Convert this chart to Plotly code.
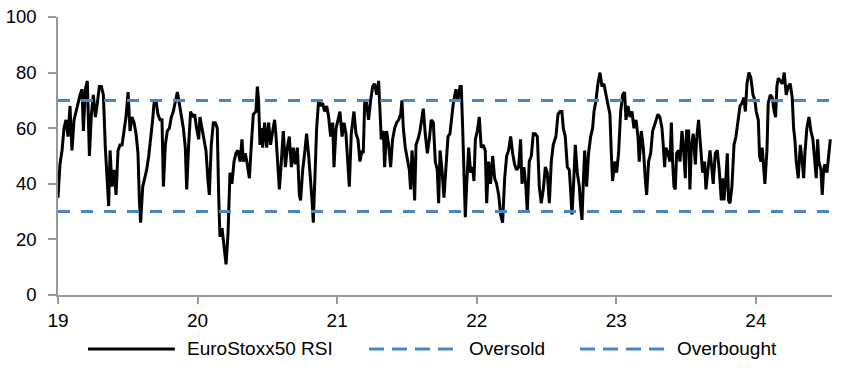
import plotly.graph_objects as go

# --- data: EuroStoxx50 RSI, time in decimal years (19 = 2019) ---
t_19a = [19.000, 19.014, 19.029, 19.043, 19.057, 19.072, 19.086, 19.100, 19.115, 19.129, 19.143, 19.158, 19.172, 19.182, 19.196, 19.210, 19.225, 19.239, 19.253, 19.268, 19.282, 19.296, 19.311, 19.325, 19.339, 19.353, 19.363, 19.373, 19.387, 19.401, 19.416, 19.430, 19.444, 19.459, 19.473, 19.487, 19.502, 19.516, 19.530, 19.545, 19.559, 19.573, 19.583, 19.592, 19.607, 19.621, 19.635, 19.650, 19.664, 19.678]
rsi_19a = [35, 47, 52, 60, 63, 57, 68, 52, 63, 66, 69, 72, 74, 59, 74, 77, 50, 65, 72, 64, 69, 75, 75, 72, 53, 39, 32, 52, 39, 45, 36, 52, 54, 54, 60, 64, 73, 59, 64, 62, 58, 51, 34, 26, 39, 42, 45, 50, 56, 63]

t_19b = [19.688, 19.702, 19.716, 19.731, 19.745, 19.755, 19.769, 19.783, 19.798, 19.812, 19.826, 19.840, 19.855, 19.869, 19.883, 19.898, 19.912, 19.922, 19.936, 19.950, 19.965, 19.979, 19.993, 20.008, 20.017, 20.032, 20.046, 20.060, 20.075, 20.084, 20.098, 20.113, 20.127, 20.141, 20.151, 20.160, 20.175, 20.189, 20.204, 20.218, 20.232, 20.246, 20.261, 20.275, 20.289, 20.304, 20.318, 20.328, 20.342, 20.356, 20.371, 20.385, 20.399]
rsi_19b = [69, 70, 65, 63, 63, 39, 54, 59, 60, 64, 66, 69, 73, 69, 65, 60, 53, 38, 54, 66, 64, 65, 60, 56, 64, 60, 56, 52, 41, 36, 54, 62, 62, 60, 36, 21, 24, 17, 11, 22, 44, 40, 48, 51, 52, 48, 56, 48, 51, 47, 42, 54, 65]

t_20 = [20.418, 20.428, 20.437, 20.447, 20.457, 20.466, 20.480, 20.495, 20.509, 20.523, 20.538, 20.552, 20.562, 20.571, 20.586, 20.600, 20.614, 20.629, 20.643, 20.657, 20.672, 20.686, 20.700, 20.715, 20.729, 20.738, 20.753, 20.767, 20.781, 20.796, 20.810, 20.820, 20.829, 20.843, 20.853, 20.867, 20.882, 20.896, 20.910, 20.925, 20.939, 20.953, 20.968, 20.977, 20.992, 21.006, 21.020, 21.035, 21.049, 21.063, 21.078, 21.087, 21.101]
rsi_20 = [66, 75, 70, 54, 60, 53, 62, 53, 62, 54, 59, 63, 57, 50, 38, 48, 59, 46, 53, 57, 46, 53, 47, 53, 36, 34, 45, 51, 58, 50, 42, 34, 26, 45, 60, 70, 68, 69, 66, 68, 64, 57, 62, 46, 60, 63, 66, 57, 62, 58, 45, 39, 58]

t_21 = [21.120, 21.135, 21.149, 21.163, 21.178, 21.187, 21.197, 21.211, 21.225, 21.240, 21.254, 21.268, 21.283, 21.297, 21.307, 21.316, 21.331, 21.340, 21.354, 21.369, 21.383, 21.397, 21.412, 21.426, 21.440, 21.455, 21.464, 21.474, 21.488, 21.503, 21.517, 21.526, 21.536, 21.545, 21.555, 21.565, 21.579, 21.593, 21.608, 21.617, 21.631, 21.646, 21.660, 21.674, 21.689, 21.703, 21.717, 21.727, 21.737, 21.751, 21.765, 21.779, 21.794, 21.808, 21.822, 21.832]
rsi_21 = [66, 58, 56, 48, 52, 51, 69, 69, 63, 70, 75, 76, 72, 77, 66, 56, 59, 46, 59, 54, 46, 56, 60, 62, 63, 65, 70, 60, 53, 48, 45, 38, 52, 46, 34, 54, 56, 59, 64, 67, 58, 51, 56, 63, 62, 48, 45, 33, 52, 45, 35, 45, 57, 58, 64, 69]

t_22a = [21.851, 21.865, 21.880, 21.889, 21.899, 21.908, 21.918, 21.927, 21.942, 21.956, 21.970, 21.980, 21.990, 22.004, 22.018, 22.032, 22.047, 22.061, 22.071, 22.085, 22.099, 22.114, 22.128, 22.142, 22.157, 22.171, 22.185, 22.200, 22.214, 22.228, 22.243, 22.257, 22.271, 22.286, 22.300, 22.314, 22.324, 22.338, 22.352, 22.362, 22.376, 22.391, 22.405, 22.419, 22.434, 22.448, 22.462, 22.477, 22.491, 22.505, 22.520, 22.534, 22.548]
rsi_22a = [74, 70, 75, 75, 60, 46, 28, 39, 53, 44, 46, 41, 56, 59, 64, 53, 54, 52, 33, 48, 40, 50, 42, 40, 36, 29, 26, 42, 50, 52, 57, 51, 47, 45, 46, 56, 40, 46, 39, 30, 48, 50, 58, 58, 57, 39, 33, 38, 46, 44, 33, 48, 54]

t_22b = [22.567, 22.582, 22.596, 22.610, 22.620, 22.634, 22.649, 22.663, 22.672, 22.682, 22.692, 22.706, 22.720, 22.735, 22.744, 22.754, 22.763, 22.773, 22.787, 22.801, 22.816, 22.830, 22.840, 22.854, 22.868, 22.883, 22.897, 22.911, 22.926, 22.940, 22.954, 22.964, 22.973, 22.988, 23.002, 23.016, 23.031, 23.045, 23.059, 23.069, 23.083, 23.098, 23.112, 23.126, 23.141, 23.155, 23.164, 23.179, 23.193, 23.207, 23.217, 23.231, 23.246, 23.260]
rsi_22b = [57, 65, 66, 66, 60, 57, 46, 45, 38, 29, 38, 54, 44, 39, 32, 27, 40, 52, 39, 51, 57, 60, 66, 70, 76, 80, 75, 76, 72, 69, 65, 51, 41, 48, 44, 51, 66, 72, 73, 63, 68, 64, 66, 60, 63, 57, 48, 59, 53, 42, 36, 48, 51, 59]

t_23 = [23.284, 23.298, 23.312, 23.327, 23.336, 23.346, 23.355, 23.370, 23.384, 23.394, 23.403, 23.413, 23.422, 23.432, 23.446, 23.456, 23.470, 23.480, 23.494, 23.503, 23.518, 23.527, 23.537, 23.551, 23.566, 23.575, 23.589, 23.604, 23.618, 23.632, 23.642, 23.656, 23.671, 23.685, 23.694, 23.709, 23.723, 23.737, 23.752, 23.761, 23.771, 23.785, 23.795, 23.804, 23.814, 23.828, 23.843, 23.857, 23.871, 23.886, 23.900, 23.914, 23.924]
rsi_23 = [63, 65, 64, 60, 54, 46, 53, 51, 48, 62, 48, 39, 38, 51, 52, 48, 59, 54, 42, 59, 59, 38, 53, 58, 47, 56, 63, 52, 44, 48, 38, 45, 52, 45, 40, 51, 52, 45, 34, 42, 34, 42, 51, 34, 33, 39, 54, 57, 62, 68, 69, 71, 66]

t_24 = [23.936, 23.950, 23.964, 23.979, 23.993, 24.002, 24.017, 24.026, 24.036, 24.045, 24.055, 24.064, 24.079, 24.088, 24.103, 24.117, 24.131, 24.141, 24.150, 24.160, 24.174, 24.189, 24.203, 24.217, 24.232, 24.246, 24.260, 24.270, 24.279, 24.289, 24.303, 24.318, 24.332, 24.342, 24.351, 24.365, 24.380, 24.394, 24.408, 24.423, 24.432, 24.442, 24.451, 24.466, 24.475, 24.485, 24.494, 24.509, 24.523, 24.533]
rsi_24 = [76, 80, 78, 72, 70, 66, 63, 50, 48, 53, 47, 40, 52, 69, 72, 71, 66, 64, 75, 78, 77, 76, 80, 72, 75, 76, 71, 60, 56, 48, 42, 54, 48, 42, 51, 60, 64, 59, 56, 48, 42, 56, 48, 45, 36, 45, 47, 44, 52, 56]

oversold_level = 30
overbought_level = 70
x_tick_vals = [19, 20, 21, 22, 23, 24]
x_tick_text = ["19", "20", "21", "22", "23", "24"]
y_tick_vals = [0, 20, 40, 60, 80, 100]

t = t_19a + t_19b + t_20 + t_21 + t_22a + t_22b + t_23 + t_24
rsi = rsi_19a + rsi_19b + rsi_20 + rsi_21 + rsi_22a + rsi_22b + rsi_23 + rsi_24

BLUE = "#4a86c1"
FONT = "Liberation Sans, Arial, sans-serif"

fig = go.Figure()
fig.add_trace(go.Scatter(x=t, y=rsi, mode="lines", name="EuroStoxx50 RSI",
                         line=dict(color="black", width=3), showlegend=False))
fig.add_trace(go.Scatter(x=[t[0], t[-1]], y=[oversold_level] * 2, mode="lines", name="Oversold",
                         line=dict(color=BLUE, width=3, dash="12px,11px"), showlegend=False))
fig.add_trace(go.Scatter(x=[t[0], t[-1]], y=[overbought_level] * 2, mode="lines", name="Overbought",
                         line=dict(color=BLUE, width=3, dash="12px,11px"), showlegend=False))

# custom legend (long samples as in the reference)
leg_y = -0.194
legend_items = [
    ("EuroStoxx50 RSI", "black", "solid", 0.0388, 0.151, 0.164),
    ("Oversold", BLUE, "15px,8px", 0.4018, 0.5103, 0.528),
    ("Overbought", BLUE, "15px,8px", 0.6744, 0.783, 0.797),
]
for label, col, dash, x0, x1, xt in legend_items:
    fig.add_shape(type="line", xref="paper", yref="paper", x0=x0, x1=x1, y0=leg_y, y1=leg_y,
                  line=dict(color=col, width=3, dash=dash))
    fig.add_annotation(xref="paper", yref="paper", x=xt, y=leg_y, text=label, showarrow=False,
                       xanchor="left", yanchor="middle", font=dict(family=FONT, size=19, color="black"))

fig.update_layout(
    width=852, height=370,
    margin=dict(l=58, r=20, t=17, b=75, autoexpand=False),
    paper_bgcolor="white", plot_bgcolor="white",
    font=dict(family=FONT, size=19, color="black"),
    showlegend=False,
)
fig.update_xaxes(range=[19, 24.545], tickvals=x_tick_vals, ticktext=x_tick_text, automargin=False,
                 showgrid=False, zeroline=False, showline=True, linecolor="#999999", linewidth=1.5,
                 ticks="outside", ticklen=7, tickcolor="#999999", tickwidth=1.5)
fig.update_yaxes(range=[0, 100], tickvals=y_tick_vals, automargin=False,
                 tickfont=dict(size=18.5), ticklabelstandoff=8, ticklabeloverflow="allow",
                 showgrid=False, zeroline=False, showline=True, linecolor="#999999", linewidth=1.5,
                 ticks="outside", ticklen=8, tickcolor="#999999", tickwidth=1.5)

# remove the page's default body margin so the figure fills the 852x370 window exactly
fig.write_html("out.html", config={"displayModeBar": False},
               post_script="document.body.style.margin='0';document.body.style.overflow='hidden';")
